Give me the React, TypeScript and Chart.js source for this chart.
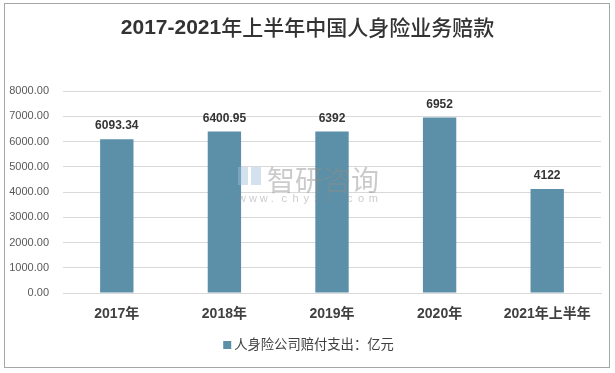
import React, { useEffect, useRef } from 'react';
import { Chart, registerables } from 'chart.js';

Chart.register(...registerables);

const titleYears = '2017-2021';
const titleRest = '年上半年中国人身险业务赔款';
const categories = ['2017年', '2018年', '2019年', '2020年', '2021年上半年'];
const payouts = [6093.34, 6400.95, 6392, 6952, 4122];
const valueLabels = ['6093.34', '6400.95', '6392', '6952', '4122'];
const seriesName = '人身险公司赔付支出：亿元';
const yMin = 0;
const yMax = 8000;
const yStep = 1000;

const BAR_COLOR = '#5B90A8';
const FONT = "'Liberation Sans', 'Noto Sans CJK SC', sans-serif";
const CJK = "'Noto Sans CJK SC', sans-serif";

const decorPlugin = {
  id: 'decor',
  afterDraw(chart: any) {
    const ctx = chart.ctx;
    const W = chart.width;

    // title (bold digits, lighter CJK)
    ctx.save();
    ctx.fillStyle = '#333333';
    ctx.textBaseline = 'middle';
    ctx.textAlign = 'left';
    const f1 = `bold 21px ${FONT}`;
    const f2 = `500 21px ${CJK}`;
    ctx.font = f1;
    const w1 = ctx.measureText(titleYears).width;
    ctx.font = f2;
    const w2 = ctx.measureText(titleRest).width;
    const tx = (W - w1 - w2) / 2;
    ctx.font = f1;
    ctx.fillText(titleYears, tx, 28);
    ctx.font = f2;
    ctx.fillText(titleRest, tx + w1, 27);
    ctx.restore();

    // legend
    ctx.save();
    ctx.font = `13.3px ${FONT}`;
    const lw = ctx.measureText(seriesName).width;
    const total = 8 + 3 + lw;
    const lx = W / 2 + 1 - total / 2;
    const ly = 345;
    ctx.fillStyle = BAR_COLOR;
    ctx.fillRect(lx, ly - 4, 8, 8);
    ctx.fillStyle = '#404040';
    ctx.textBaseline = 'middle';
    ctx.textAlign = 'left';
    ctx.fillText(seriesName, lx + 11, ly);
    ctx.restore();
  },
  afterDatasetsDraw(chart: any) {
    const ctx = chart.ctx;
    // watermark
    ctx.save();
    ctx.globalAlpha = 0.45;
    ctx.fillStyle = '#8c8c8c';
    ctx.font = `28px ${CJK}`;
    ctx.textAlign = 'left';
    ctx.textBaseline = 'middle';
    ctx.fillText('智研咨询', 267, 180);
    ctx.font = `11px ${FONT}`;
    const wm = 'www.chyxx.com';
    let x = 238;
    for (const ch of wm) {
      ctx.fillText(ch, x, 199);
      x += 10.9;
    }
    ctx.fillStyle = '#9dbfd9';
    ctx.fillRect(238, 167, 10, 18);
    ctx.fillRect(251, 167, 10, 18);
    ctx.restore();

    const meta = chart.getDatasetMeta(0);
    ctx.save();
    ctx.fillStyle = '#333333';
    ctx.font = `bold 12px ${FONT}`;
    ctx.textAlign = 'center';
    ctx.textBaseline = 'middle';
    meta.data.forEach((bar: any, i: number) => {
      ctx.fillText(valueLabels[i], bar.x, bar.y - 13);
    });
    ctx.restore();
  },
};

export default function App() {
  const ref = useRef<HTMLCanvasElement | null>(null);

  useEffect(() => {
    if (!ref.current) return;
    const chart = new Chart(ref.current, {
      type: 'bar',
      data: {
        labels: categories,
        datasets: [
          {
            label: seriesName,
            data: payouts,
            backgroundColor: BAR_COLOR,
            borderWidth: 0,
            barPercentage: 0.31,
            categoryPercentage: 1,
          },
        ],
      },
      options: {
        responsive: false,
        animation: false,
        layout: { padding: { top: 91, right: 14, bottom: 44, left: 0 } },
        plugins: {
          title: { display: false },
          legend: { display: false },
          tooltip: { enabled: false },
        },
        scales: {
          x: {
            grid: { display: false, drawTicks: false },
            border: { display: true, color: '#d9d9d9' },
            ticks: {
              color: '#404040',
              font: { family: FONT, size: 14, weight: 'bold' },
              padding: 13,
              maxRotation: 0,
              autoSkip: false,
            },
            afterFit(scale: any) {
              scale.height = 36;
            },
          },
          y: {
            min: yMin,
            max: yMax,
            grid: { color: '#d9d9d9', drawTicks: false },
            border: { display: false },
            ticks: {
              stepSize: yStep,
              color: '#595959',
              font: { family: FONT, size: 11 },
              padding: 14,
              callback: (v: any) => Number(v).toFixed(2),
            },
            afterFit(scale: any) {
              scale.width = 63;
            },
          },
        },
      },
      plugins: [decorPlugin],
    });
    return () => chart.destroy();
  }, []);

  return (
    <div style={{ position: 'absolute', left: 0, top: 0, width: 615, height: 373, background: '#fff' }}>
      <canvas ref={ref} width={615} height={373} style={{ display: 'block' }} />
      <div
        style={{
          position: 'absolute',
          left: 4,
          top: 3,
          width: 606,
          height: 365,
          border: '1px solid #a6a6a6',
          boxSizing: 'border-box',
          pointerEvents: 'none',
        }}
      />
    </div>
  );
}
